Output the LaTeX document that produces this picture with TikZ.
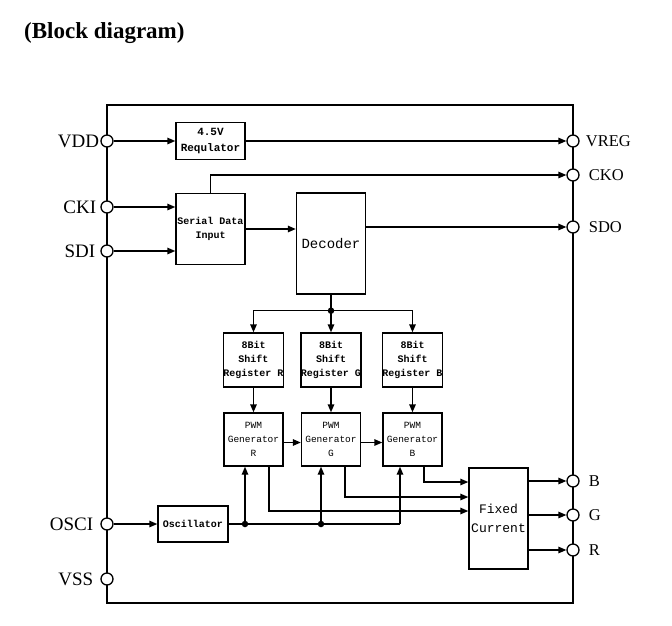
\documentclass[tikz,border=0pt]{standalone}
\usepackage{fontspec}
\setmainfont{Liberation Serif}
\setmonofont{Liberation Mono}
\usetikzlibrary{positioning,calc,arrows.meta}

\tikzset{
  blk/.style={draw, line width=1.4pt, align=center, inner sep=0pt,
    font=\ttfamily\bfseries\fontsize{10}{14}\selectfont},
  pin/.style={draw, circle, fill=white, minimum size=12pt, inner sep=0pt, line width=1.3pt},
  wire/.style={line width=1.4pt},
  sig/.style={wire, -{Triangle[length=8pt,width=6.5pt]}},
  dot/.style={circle, fill=black, minimum size=6.5pt, inner sep=0pt},
  lpin/.style={font=\fontsize{19}{19}\selectfont, inner sep=1pt},
  rpin/.style={font=\fontsize{16.5}{16.5}\selectfont, inner sep=1pt},
}

\begin{document}
\begin{tikzpicture}[x=1pt,y=-1pt]
    \useasboundingbox (0,0) rectangle (672,625);
    \node[anchor=base west, inner sep=0pt, font=\bfseries\fontsize{23}{23}\selectfont] (title) at (24,38) {(Block diagram)};

    % Chip outline
    \draw[wire] (107,105) rectangle (573,603);

    % Pins, left side
    \node[pin] (vdd) at (107,141) {};
    \node[pin] (cki) at (107,207) {};
    \node[pin] (sdin) at (107,251) {};
    \node[pin] (osci) at (107,524) {};
    \node[pin] (vss) at (107,579) {};
    \node[lpin, left=0pt of vdd] (vddtxt) {VDD};
    \node[lpin, left=3pt of cki] (ckitxt) {CKI};
    \node[lpin, left=4pt of sdin] (sditxt) {SDI};
    \node[lpin, left=6pt of osci] (oscitxt) {OSCI};
    \node[lpin, left=6pt of vss] (vsstxt) {VSS};

    % Pins, right side
    \node[pin] (vreg) at (573,141) {};
    \node[pin] (cko) at (573,175) {};
    \node[pin] (sdo) at (573,227) {};
    \node[pin] (pb) at (573,481) {};
    \node[pin] (pg) at (573,515) {};
    \node[pin] (pr) at (573,550) {};
    \node[rpin, right=5pt of vreg] (vregtxt) {VREG};
    \node[rpin, right=8pt of cko] (ckotxt) {CKO};
    \node[rpin, right=8pt of sdo] (sdotxt) {SDO};
    \node[rpin, right=8pt of pb] (btxt) {B};
    \node[rpin, right=8pt of pg] (gtxt) {G};
    \node[rpin, right=8pt of pr] (rtxt) {R};

    % Blocks
    \node[blk, font=\ttfamily\bfseries\fontsize{11}{16}\selectfont, minimum width=69pt, minimum height=37pt] (reg) at (210.5,141) {4.5V\\Requlator};
    \node[blk, minimum width=69pt, minimum height=71pt] (ser) at (210.5,229) {Serial Data\\Input};
    \node[blk, font=\ttfamily\fontsize{14}{14}\selectfont, minimum width=69pt, minimum height=101pt] (dec) at (331,243.5) {Decoder};
    \node[blk, minimum width=59pt, minimum height=54pt] (shR) at (253.5,360) {8Bit\\Shift\\Register R};
    \node[blk, minimum width=59pt, minimum height=54pt] (shG) at (331,360) {8Bit\\Shift\\Register G};
    \node[blk, minimum width=59pt, minimum height=54pt] (shB) at (412.5,360) {8Bit\\Shift\\Register B};
    \node[blk, font=\ttfamily\fontsize{9.5}{14}\selectfont, minimum width=59pt, minimum height=53pt] (pwmR) at (253.5,439.5) {PWM\\Generator\\R};
    \node[blk, font=\ttfamily\fontsize{9.5}{14}\selectfont, minimum width=59pt, minimum height=53pt] (pwmG) at (331,439.5) {PWM\\Generator\\G};
    \node[blk, font=\ttfamily\fontsize{9.5}{14}\selectfont, minimum width=59pt, minimum height=53pt] (pwmB) at (412.5,439.5) {PWM\\Generator\\B};
    \node[blk, minimum width=70pt, minimum height=36pt] (osc) at (193,524) {Oscillator};
    \node[blk, font=\ttfamily\fontsize{13}{19}\selectfont, minimum width=59pt, minimum height=101pt] (fix) at (498.5,518.5) {Fixed\\Current};

    % Supply, clock and data in/out
    \draw[sig] (vdd.east) -- (vdd.east -| reg.west);
    \draw[sig] (reg.east) -- (reg.east -| vreg.west);
    \draw[sig] (ser.north) |- (cko.west);
    \draw[sig] (cki.east) -- (cki.east -| ser.west);
    \draw[sig] (sdin.east) -- (sdin.east -| ser.west);
    \draw[sig] (ser.east) -- (ser.east -| dec.west);
    \draw[sig] (dec.east |- sdo) -- (sdo.west);

    % Decoder to the three channels
    \coordinate (br) at ([yshift=-16pt]dec.south);
    \draw[wire] (dec.south) -- (br);
    \node[dot] (brdot) at (br) {};
    \draw[sig] (br) -| (shR.north);
    \draw[sig] (br) -- (shG.north);
    \draw[sig] (br) -| (shB.north);
    \foreach \c in {R,G,B} {
        \draw[sig] (sh\c.south) -- (pwm\c.north);
    }
    \draw[sig] ([yshift=-3pt]pwmR.east) -- ([yshift=-3pt]pwmG.west);
    \draw[sig] ([yshift=-3pt]pwmG.east) -- ([yshift=-3pt]pwmB.west);

    % Clock from the oscillator
    \draw[sig] (osci.east) -- (osc.west);
    \coordinate (clkR) at (245,524);
    \coordinate (clkG) at (321,524);
    \coordinate (clkB) at (400,524);
    \draw[wire] (osc.east) -- (clkB);
    \node[dot] (dotR) at (clkR) {};
    \node[dot] (dotG) at (clkG) {};
    \draw[sig] (clkR) -- (clkR |- pwmR.south);
    \draw[sig] (clkG) -- (clkG |- pwmG.south);
    \draw[sig] (clkB) -- (clkB |- pwmB.south);

    % PWM outputs into the current driver
    \draw[sig] ([xshift=15.5pt]pwmR.south) |- (fix.west |- 0,511);
    \draw[sig] ([xshift=14pt]pwmG.south) |- (fix.west |- 0,497);
    \draw[sig] ([xshift=11.5pt]pwmB.south) |- (fix.west |- 0,482);

    % Driver outputs
    \draw[sig] (fix.east |- pb) -- (pb.west);
    \draw[sig] (fix.east |- pg) -- (pg.west);
    \draw[sig] (fix.east |- pr) -- (pr.west);
\end{tikzpicture}
\end{document}
